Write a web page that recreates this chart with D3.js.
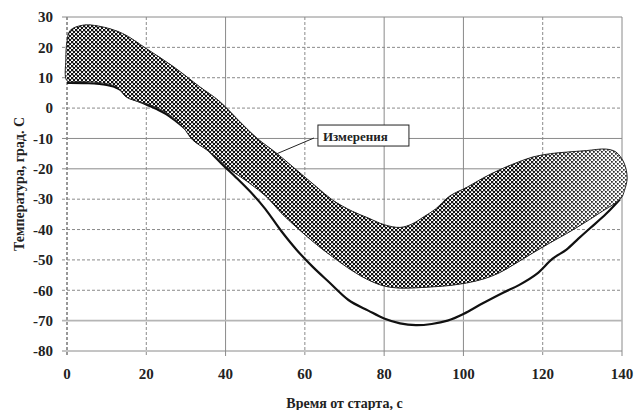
<!DOCTYPE html>
<html>
<head>
<meta charset="utf-8">
<script src="https://cdn.jsdelivr.net/npm/d3@7"></script>
<style>
body { margin: 0; background: #fff; }
text { font-family: "Liberation Serif", "Times New Roman", serif; font-weight: bold; fill: #222; }
</style>
</head>
<body>
<div id="chart"></div>
<script>
/* data */
var xTicks = [0, 20, 40, 60, 80, 100, 120, 140];
var yTicks = [30, 20, 10, 0, -10, -20, -30, -40, -50, -60, -70, -80];

// computed curve (solid black line): time, temperature
var lineTime = [0, 5, 10, 13, 16, 20, 25, 30, 35, 39, 43, 47, 50, 54, 58, 62, 66, 71, 76, 80, 84, 88, 92, 96, 100, 105, 110, 114, 118.5, 122.5, 126, 129, 132, 136, 139.5];
var lineTemp = [8.3, 8.2, 7.6, 6.4, 3.5, 1.2, -2, -7, -13, -18.3, -23.3, -28.6, -33.2, -40.4, -46.8, -52.3, -57.2, -63.2, -66.7, -69.3, -70.9, -71.5, -71.1, -70, -67.8, -64.2, -60.8, -58.3, -54.6, -49.6, -46.6, -43, -39.5, -34.8, -30];

// measured band: upper edge left->right, then lower edge right->left
var bandUpperTime = [0, -0.3, 0, 0.8, 4, 8, 14, 20, 27, 33.5, 38.5, 44, 48, 53, 58, 63, 67, 72, 76, 80, 84, 87, 90, 93, 96.5, 101, 105, 109, 113, 117.5, 122, 126, 131, 136, 138.5, 140.5, 141.3, 140.6];
var bandUpperTemp = [9, 16, 22, 25.6, 27.3, 27, 24.6, 19.6, 13.5, 7, 2.2, -5, -10, -15, -20.5, -26, -30.3, -34, -36.2, -38.4, -39.3, -38.2, -35.8, -33.2, -29, -26, -23, -20.4, -18.2, -16.1, -15, -14.5, -14, -13.5, -14.5, -18, -23, -27.2];
var bandLowerTime = [139.8, 134.3, 127.5, 121.7, 117.4, 113, 109, 105, 100.8, 96, 92, 88, 84, 80, 76, 72, 67, 63, 58.7, 54, 50.4, 46, 40.3, 38.5, 35.3, 31.7, 29.2, 25.2, 21, 18.4, 15, 12.6, 8, 3];
var bandLowerTemp = [-29.6, -34.6, -40.2, -44.5, -47.8, -51.3, -54.3, -56.3, -57.6, -58.5, -58.9, -59.2, -59.3, -58.6, -56.6, -53.6, -49, -45, -40.2, -34.5, -29.3, -24.7, -19.4, -17.1, -13.8, -10.5, -6.2, -1.6, 1, 2, 3.6, 6.9, 8.4, 8.7];

var calloutText = "Измерения";
var xTitle = "Время от старта, с";
var yTitle = "Температура, град. С";

var W = 635, H = 410;
var margin = { top: 17, right: 13, bottom: 59, left: 67 },
    width = W - margin.left - margin.right,
    height = H - margin.top - margin.bottom;

var x = d3.scaleLinear().domain([0, 140]).range([0, width]);
var y = d3.scaleLinear().domain([-80, 30]).range([height, 0]);

var svg = d3.select("#chart").append("svg")
    .attr("width", W)
    .attr("height", H);

var defs = svg.append("defs");

// dense checker pattern (opaque)
var checker = defs.append("pattern")
    .attr("id", "checker")
    .attr("patternUnits", "userSpaceOnUse")
    .attr("width", 4).attr("height", 4);
checker.append("rect").attr("width", 4).attr("height", 4).attr("fill", "#fff");
checker.append("rect").attr("width", 2.3).attr("height", 2.3).attr("fill", "#111");
checker.append("rect").attr("x", 2).attr("y", 2).attr("width", 2.3).attr("height", 2.3).attr("fill", "#111");

// sparse dot pattern
var dots = defs.append("pattern")
    .attr("id", "dots")
    .attr("patternUnits", "userSpaceOnUse")
    .attr("width", 4).attr("height", 4);
dots.append("rect").attr("width", 4).attr("height", 4).attr("fill", "#fff");
dots.append("rect").attr("width", 1.7).attr("height", 1.7).attr("fill", "#333");
dots.append("rect").attr("x", 2).attr("y", 2).attr("width", 1.7).attr("height", 1.7).attr("fill", "#333");

var g = svg.append("g")
    .attr("transform", "translate(" + margin.left + "," + margin.top + ")");

// fade mask: checker on the left, dots on the right
var grad = defs.append("linearGradient")
    .attr("id", "fade")
    .attr("gradientUnits", "userSpaceOnUse")
    .attr("x1", margin.left + x(96)).attr("x2", margin.left + x(124))
    .attr("y1", 0).attr("y2", 0);
grad.append("stop").attr("offset", 0).attr("stop-color", "#fff");
grad.append("stop").attr("offset", 1).attr("stop-color", "#000");
defs.append("mask")
    .attr("id", "fadeMask")
    .attr("maskUnits", "userSpaceOnUse")
    .attr("x", 0).attr("y", 0).attr("width", W).attr("height", H)
    .append("rect")
    .attr("x", 0).attr("y", 0).attr("width", W).attr("height", H)
    .attr("fill", "url(#fade)");

/* grid */
var dashedX = [0, 20, 60, 120];
var dashedY = [20, 10, 0, -30, -40, -50, -60];

g.selectAll(".vgrid")
    .data(xTicks)
    .enter().append("line")
    .attr("class", "vgrid")
    .attr("x1", function(d) { return x(d); })
    .attr("x2", function(d) { return x(d); })
    .attr("y1", 0)
    .attr("y2", height + 5)
    .attr("stroke", function(d) { return d === 0 ? "#333" : "#8a8a8a"; })
    .attr("stroke-width", 1)
    .attr("stroke-dasharray", function(d) { return dashedX.indexOf(d) >= 0 ? "3,2" : null; });

g.selectAll(".hgrid")
    .data(yTicks)
    .enter().append("line")
    .attr("class", "hgrid")
    .attr("x1", -5)
    .attr("x2", width)
    .attr("y1", function(d) { return y(d); })
    .attr("y2", function(d) { return y(d); })
    .attr("stroke", function(d) { return d === -70 ? "#b5b5b5" : "#8a8a8a"; })
    .attr("stroke-width", function(d) { return d === -70 ? 1.6 : 1; })
    .attr("stroke-dasharray", function(d) { return dashedY.indexOf(d) >= 0 ? "3,2" : null; });

/* computed line */
var line = d3.line()
    .x(function(d) { return x(d[0]); })
    .y(function(d) { return y(d[1]); })
    .curve(d3.curveCatmullRom);

g.append("path")
    .datum(lineTime.map(function(t, i) { return [t, lineTemp[i]]; }))
    .attr("fill", "none")
    .attr("stroke", "#111")
    .attr("stroke-width", 2.2)
    .attr("d", line);

/* measured band */
var bandPts = bandUpperTime.map(function(t, i) { return [t, bandUpperTemp[i]]; })
    .concat(bandLowerTime.map(function(t, i) { return [t, bandLowerTemp[i]]; }));

var bandLine = d3.line()
    .x(function(d) { return x(d[0]); })
    .y(function(d) { return y(d[1]); })
    .curve(d3.curveCatmullRomClosed);

g.append("path").attr("d", bandLine(bandPts)).attr("fill", "url(#dots)");
g.append("path").attr("d", bandLine(bandPts)).attr("fill", "url(#checker)")
    .attr("mask", "url(#fadeMask)");
g.append("path").attr("d", bandLine(bandPts))
    .attr("fill", "none")
    .attr("stroke", "#222")
    .attr("stroke-width", 1);

/* callout */
var cx = x(63.3), cy = y(-9.2);
g.append("line")
    .attr("x1", x(53)).attr("y1", y(-15))
    .attr("x2", cx - 4).attr("y2", cy + 2)
    .attr("stroke", "#222").attr("stroke-width", 1);
var call = g.append("g").attr("transform", "translate(" + cx + "," + cy + ")");
call.append("rect")
    .attr("x", 0).attr("y", -11)
    .attr("width", 91).attr("height", 21)
    .attr("fill", "#fff")
    .attr("stroke", "#222")
    .attr("stroke-width", 1);
call.append("text")
    .attr("x", 5).attr("y", 0)
    .attr("dy", "0.35em")
    .style("font-size", "13px")
    .text(calloutText);

/* axis labels */
g.selectAll(".ylab")
    .data(yTicks)
    .enter().append("text")
    .attr("class", "ylab")
    .attr("x", -14)
    .attr("y", function(d) { return y(d); })
    .attr("dy", "0.35em")
    .attr("text-anchor", "end")
    .style("font-size", "15px")
    .text(function(d) { return d; });

g.selectAll(".xlab")
    .data(xTicks)
    .enter().append("text")
    .attr("class", "xlab")
    .attr("x", function(d) { return x(d); })
    .attr("y", height + 23)
    .attr("dy", "0.35em")
    .attr("text-anchor", "middle")
    .style("font-size", "15px")
    .text(function(d) { return d; });

svg.append("text")
    .attr("x", margin.left + width / 2)
    .attr("y", 408)
    .attr("text-anchor", "middle")
    .style("font-size", "14px")
    .text(xTitle);

svg.append("text")
    .attr("transform", "translate(24," + (margin.top + height / 2) + ") rotate(-90)")
    .attr("text-anchor", "middle")
    .style("font-size", "14px")
    .text(yTitle);
</script>
</body>
</html>
